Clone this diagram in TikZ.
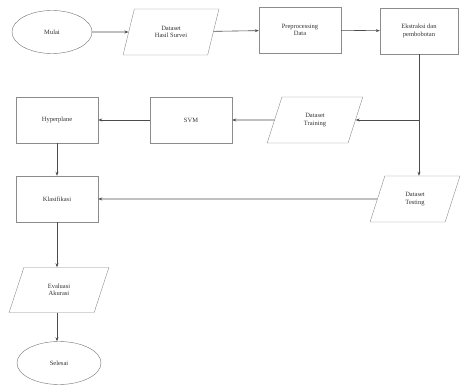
\documentclass[tikz,border=0pt]{standalone}
\usepackage{fontspec}
\setmainfont{Liberation Serif}
\usetikzlibrary{shapes.geometric,arrows.meta}

\begin{document}
\begin{tikzpicture}[
        x=1pt,y=-1pt,
        every path/.style={draw=black!70,semithick,-{Stealth[length=4pt,width=3pt]}},
        every node/.style={font=\fontsize{6.5}{7.5}\selectfont,align=center,text=black!80},
        proc/.style={rectangle,draw=black!45,thin,fill=white,minimum width=82pt,minimum height=46pt},
        data/.style={trapezium,trapezium left angle=72,trapezium right angle=108,trapezium stretches=true,draw=black!45,thin,fill=white,minimum width=96pt,minimum height=46pt},
        term/.style={ellipse,draw=black!55,thin,fill=white,minimum width=80pt,minimum height=43pt}
    ]
        \useasboundingbox [draw=none] (0,0) rectangle (461,387);
        \node [term] (mulai) at (52,32) {Mulai};
        \node [data] (survei) at (171,32) {Dataset\\Hasil Survei};
        \node [proc] (prepro) at (300,30) {Preprocessing\\Data};
        \node [proc,minimum width=78pt] (ekstraksi) at (419,31) {Ekstraksi dan\\pembobotan};
        \node [data] (training) at (315,120) {Dataset\\Training};
        \node [proc] (svm) at (191,120) {SVM};
        \node [proc] (hyper) at (57,120) {Hyperplane};
        \node [proc] (klasifikasi) at (57,199) {Klasifikasi};
        \node [data,minimum width=90pt] (testing) at (415,199) {Dataset\\Testing};
        \node [data,minimum width=100pt,minimum height=45pt] (evaluasi) at (59,290) {Evaluasi\\Akurasi};
        \node [term,minimum width=84pt] (selesai) at (59,363) {Selesai};
        \coordinate (cabang) at (ekstraksi.south |- training);

        \draw (mulai) -- (survei);
        \draw (survei) -- (prepro);
        \draw (prepro) -- (ekstraksi);
        \draw [-] (ekstraksi.south) -- (cabang);
        \draw (cabang) -- (training);
        \draw (cabang) -- (cabang |- testing.north);
        \draw (training) -- (svm);
        \draw (svm) -- (hyper);
        \draw (hyper) -- (klasifikasi);
        \draw (testing) -- (klasifikasi);
        \draw (klasifikasi) -- (klasifikasi |- evaluasi.north);
        \draw (evaluasi.south -| klasifikasi) -- (klasifikasi |- selesai.north);
    \end{tikzpicture}
\end{document}
